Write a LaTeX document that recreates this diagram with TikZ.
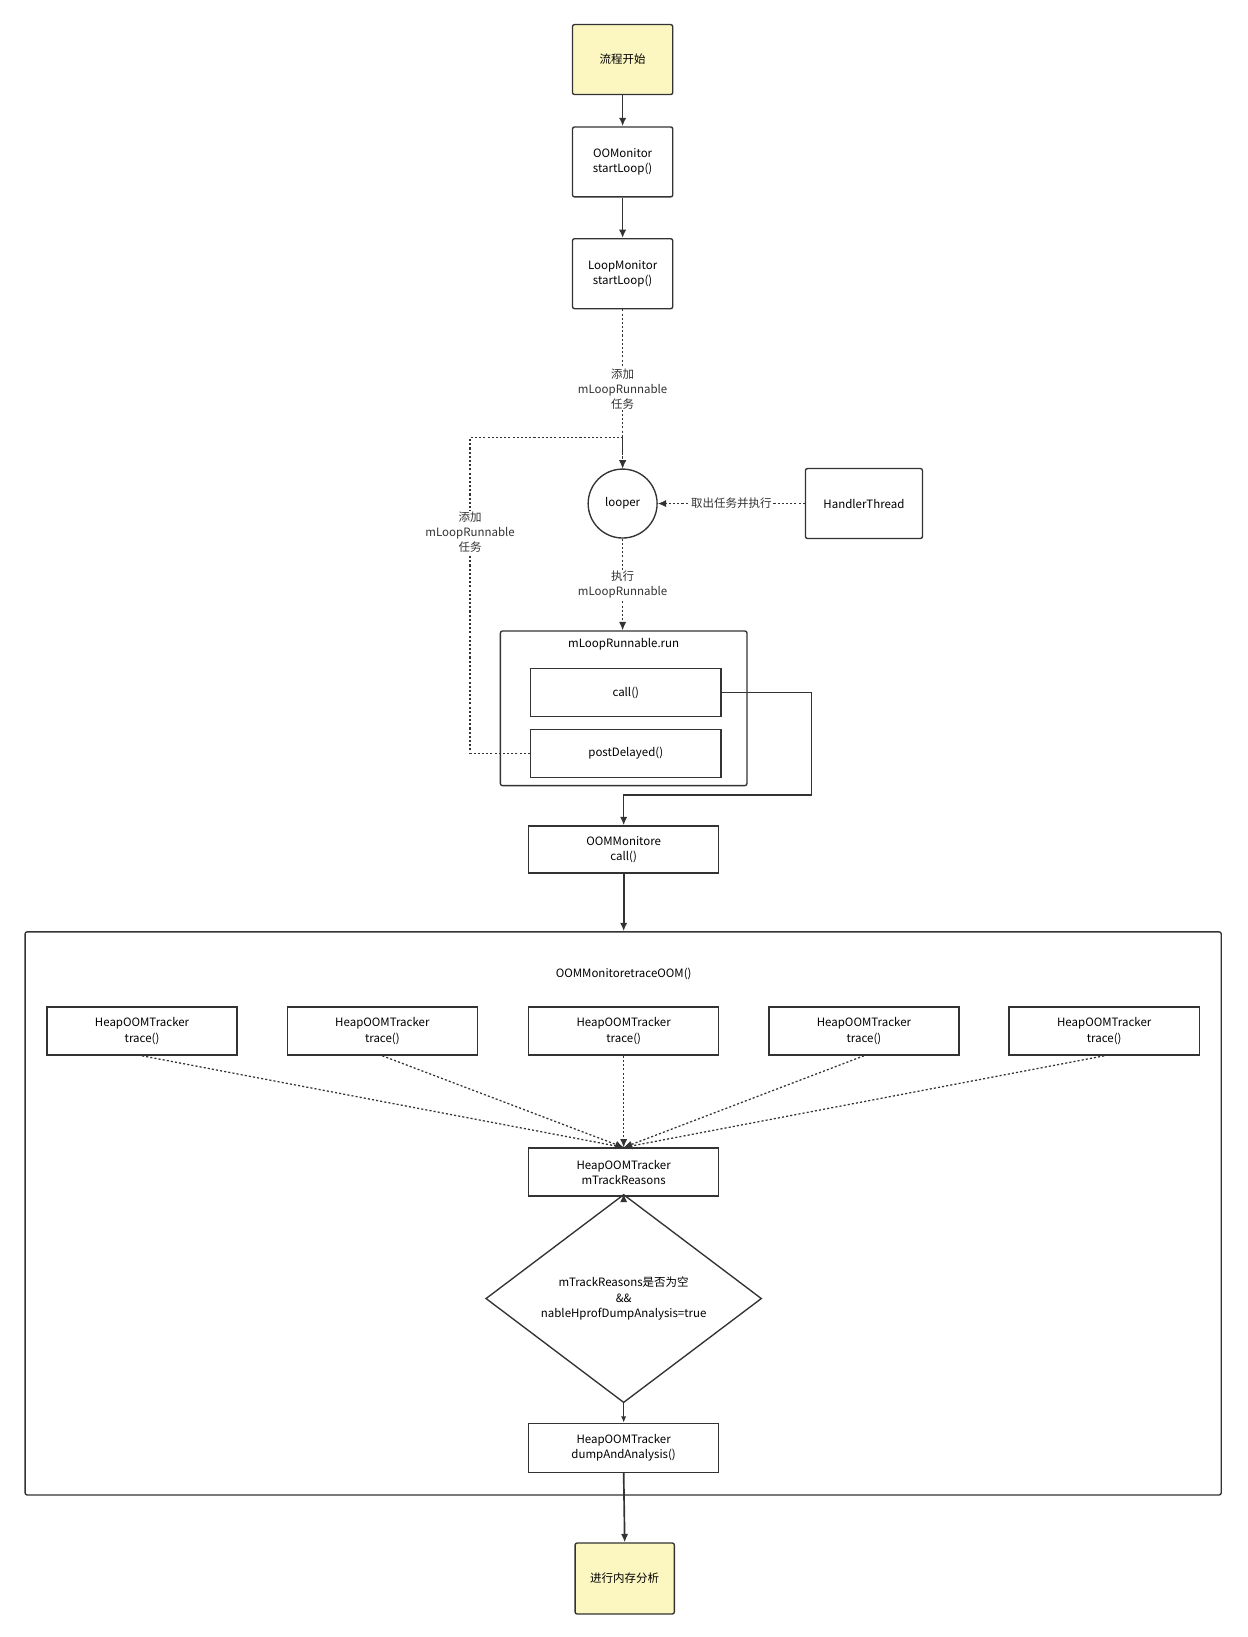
\documentclass[tikz,border=0pt]{standalone}
\usepackage{fontspec}
\setmainfont{Noto Sans CJK SC}
\usetikzlibrary{arrows.meta,shapes.geometric}
\definecolor{ln}{HTML}{333333}
\definecolor{yel}{HTML}{FCF6C0}
\begin{document}
\begin{tikzpicture}[x=1pt,y=-1pt,
  font=\fontsize{11}{14.5}\selectfont,
  box/.style={draw=ln,line width=1.3pt,rounded corners=2pt,align=center,inner sep=0pt},
  solid arr/.style={draw=ln,line width=1.6pt,-{Latex[length=8pt,width=7pt]}},
  dot arr/.style={draw=ln,line width=1.2pt,dash pattern=on 2pt off 2pt,-{Latex[length=8pt,width=7pt]}},
  lbl/.style={fill=white,align=center,inner sep=1pt,text=ln}]
\useasboundingbox (0,0) rectangle (1194,1567);
\node[box,fill=yel,minimum width=96pt,minimum height=67pt] (start) at (596,57) {流程开始};
\node[box,minimum width=96pt,minimum height=67pt] (oom) at (596,155) {OOMonitor\\startLoop()};
\node[box,minimum width=96pt,minimum height=67pt] (loop) at (596,262) {LoopMonitor\\startLoop()};
\node[draw=ln,line width=1.3pt,circle,minimum size=66pt,inner sep=0pt] (looper) at (596,482) {looper};
\node[box,minimum width=112pt,minimum height=67pt] (ht) at (827,482) {HandlerThread};
\node[box,minimum width=236pt,minimum height=148pt] (run) at (597,678) {};
\node[anchor=center] (runt) at (597,617) {mLoopRunnable.run};
\node[box,rounded corners=0pt,minimum width=182pt,minimum height=46pt] (call) at (599,663) {call()};
\node[box,rounded corners=0pt,minimum width=182pt,minimum height=46pt] (post) at (599,721) {postDelayed()};
\node[box,rounded corners=0pt,minimum width=182pt,minimum height=45pt] (oc) at (597,813) {OOMMonitore\\call()};
\node[box,minimum width=1145pt,minimum height=539pt] (big) at (596.5,1161.5) {};
\node (bigt) at (597,932) {OOMMonitore\\traceOOM()};
\foreach \i/\x in {1/136,2/366,3/597,4/827,5/1057}
  \node[box,rounded corners=0pt,minimum width=182pt,minimum height=46pt] (t\i) at (\x,987) {HeapOOMTracker\\trace()};
\node[box,rounded corners=0pt,minimum width=182pt,minimum height=46pt] (mt) at (597,1122) {HeapOOMTracker\\mTrackReasons};
\node[draw=ln,line width=1.3pt,diamond,minimum width=264pt,minimum height=170pt,inner sep=0pt,align=center] (dia) at (597,1243) {mTrackReasons是否为空\\\&\&\\nableHprofDumpAnalysis=true};
\node[box,rounded corners=0pt,minimum width=182pt,minimum height=47pt] (dump) at (597,1386) {HeapOOMTracker\\dumpAndAnalysis()};
\node[box,fill=yel,minimum width=95pt,minimum height=68pt] (end) at (598,1511) {进行内存分析};
\draw[solid arr] (start) -- (oom);
\draw[solid arr] (oom) -- (loop);
\draw[dot arr] (loop) -- node[lbl] {添加\\mLoopRunnable\\任务} (looper);
\draw[dot arr] (ht) -- node[lbl] {取出任务并执行} (looper);
\draw[dot arr] (looper) -- node[lbl,pos=0.5] {执行\\mLoopRunnable} (run.north -| looper);
\coordinate (pl) at (450,721); \coordinate (pt) at (450,419); \coordinate (ptr) at (596,419);
\draw[dot arr] (post.west) -- (pl) -- node[lbl,pos=0.7] {添加\\mLoopRunnable\\任务} (pt) -- (ptr) -- (looper.north);
\coordinate (c1) at (777,663); \coordinate (c2) at (777,761); \coordinate (c3) at (597,761);
\draw[draw=ln,line width=1.3pt,-{Latex[length=8pt,width=7pt]}] (call.east) -- (c1) -- (c2) -- (c3) -- (oc.north);
\draw[solid arr] (oc) -- (big.north -| oc);
\foreach \i in {1,...,5} \draw[dot arr] (t\i.south) -- (mt.north);
\draw[solid arr] (mt) -- (dia.north);
\draw[draw=ln,line width=1.3pt,-{Latex[length=6pt,width=5pt]}] (dia.south) -- (dump);
\draw[solid arr] (dump.south) -- (end.north);
\end{tikzpicture}
\end{document}
